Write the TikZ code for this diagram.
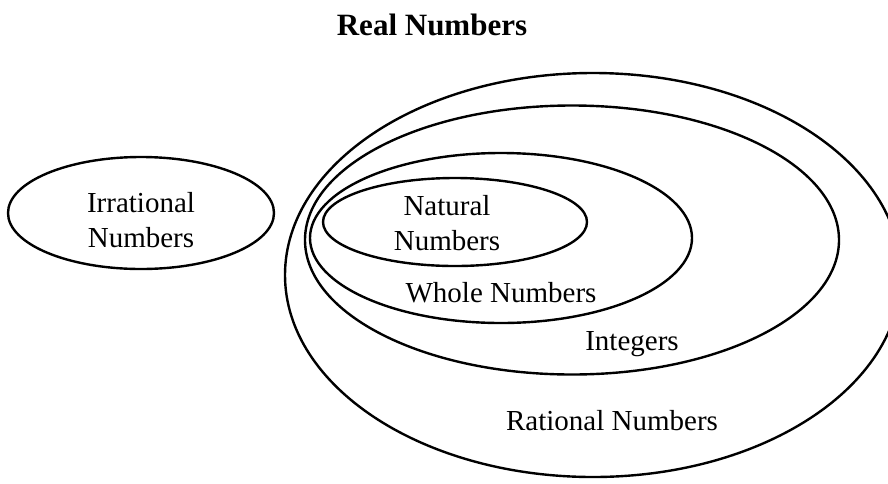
\documentclass[tikz,border=0pt]{standalone}
\usepackage{fontspec}
\setmainfont{Liberation Serif}
\usetikzlibrary{shapes.geometric}

\begin{document}
\begin{tikzpicture}[x=1pt, y=-1pt,
  setell/.style={ellipse, draw=black, line width=2.4pt, inner sep=0pt},
  lbl/.style={font=\fontsize{29}{35}\selectfont, align=center, inner sep=0pt},
  ttl/.style={font=\fontsize{31}{37}\selectfont\bfseries, inner sep=0pt}]
  \useasboundingbox (0,0) rectangle (888,483);
  \clip (0,0) rectangle (888,483);
  % sets, outermost first
  \node[setell, minimum width=616pt, minimum height=404pt] (rational) at (593,275) {};
  \node[setell, minimum width=534pt, minimum height=269pt] (integers) at (572,240) {};
  \node[setell, minimum width=382pt, minimum height=170pt] (whole) at (501,238) {};
  \node[setell, minimum width=264pt, minimum height=88pt] (natural) at (455,222) {};
  \node[setell, minimum width=266pt, minimum height=112pt] (irrational) at (141,213) {};
  % labels
  \node[ttl, anchor=base] (title) at (432,35) {Real Numbers};
  \node[lbl, anchor=base] (irrlbl) at (141,247) {Irrational\\Numbers};
  \node[lbl, anchor=base] (natlbl) at (447,250) {Natural\\Numbers};
  \node[lbl, anchor=base] (whllbl) at (501,302) {Whole Numbers};
  \node[lbl, anchor=base] (intlbl) at (632,350) {Integers};
  \node[lbl, anchor=base] (ratlbl) at (612,430) {Rational Numbers};
\end{tikzpicture}
\end{document}
